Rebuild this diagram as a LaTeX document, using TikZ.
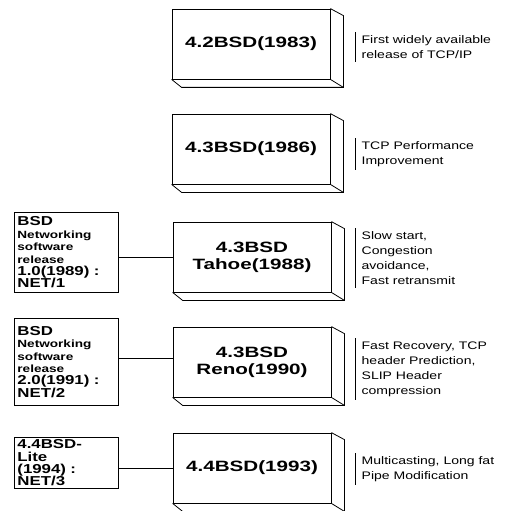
\documentclass[tikz,border=0pt]{standalone}
\usepackage{fontspec}
\newfontfamily\releasefont{Liberation Sans}[FakeStretch=1.38]
\newfontfamily\netfont{Liberation Sans}[FakeStretch=1.3]
\newfontfamily\notefont{Liberation Sans}
\usepackage{tikz}
\usetikzlibrary{positioning}

% bevelled edge on the right and bottom of a release box
\newcommand{\bevel}[1]{%
    \draw[line width=0.8pt] (#1.north east) -- ++(13,7)
        -- ([shift={(13,8)}]#1.south east) -- ([shift={(10,8)}]#1.south west) -- (#1.south west);
    \draw[line width=0.8pt] (#1.south east) -- ++(13,8);
}
% smaller lines inside the left boxes
\newcommand{\netsmall}{\fontsize{10.5}{12.5}\selectfont}
\newcommand{\netbig}{\fontsize{13}{12.5}\selectfont}

\begin{document}
\begin{tikzpicture}[x=1bp, y=-1bp,
    release/.style={draw, line width=0.8pt, minimum width=158bp, minimum height=70bp, align=center,
        font=\releasefont\bfseries\fontsize{15}{17}\selectfont},
    netbox/.style={draw, line width=0.8pt, anchor=north west, text width=98bp, inner xsep=3bp, inner ysep=2bp,
        align=left, font=\netfont\bfseries\netbig},
    note/.style={anchor=west, align=left, transform shape, inner xsep=5bp, inner ysep=3bp,
        font=\notefont\fontsize{11}{15}\selectfont},
    wide/.style={xscale=1.28},
    link/.style={line width=0.8pt}
]
    \useasboundingbox (0,0) rectangle (530,511);

    % Releases arranged vertically
    \node[release] (bsd42) at (251,44) {4.2BSD(1983)};
    \node[release] (bsd43) at (251,149) {4.3BSD(1986)};
    \node[release] (tahoe) at (252,257) {4.3BSD\\Tahoe(1988)};
    \node[release] (reno) at (252,362) {4.3BSD\\Reno(1990)};
    \node[release] (bsd44) at (252,468) {4.4BSD(1993)};
    \bevel{bsd42}
    \bevel{bsd43}
    \bevel{tahoe}
    \bevel{reno}
    \bevel{bsd44}

    % Networking software releases on left side
    \node[netbox, minimum height=80bp] (net1) at (14,212)
        {BSD\\\netsmall Networking\\software\\release\\\netbig 1.0(1989) :\\NET/1};
    \node[netbox, minimum height=87bp] (net2) at (14,318)
        {BSD\\\netsmall Networking\\software\\release\\\netbig 2.0(1991) :\\NET/2};
    \node[netbox, minimum height=51bp] (net3) at (14,437) {4.4BSD-\\Lite\\(1994) :\\NET/3};

    \draw[link] (tahoe.west) -- (tahoe.west -| net1.east);
    \draw[link] (reno.west) ++(0,-4) -- (net2.east |- {(0,358)});
    \draw[link] (bsd44.west) -- (bsd44.west -| net3.east);

    % Notes on right side
    \begin{scope}[shift={(355,47)}, wide]
        \node[note] (n1) at (0,0) {First widely available\\release of TCP/IP};
    \end{scope}
    \begin{scope}[shift={(355,154)}, wide]
        \node[note] (n2) at (0,0) {TCP Performance\\Improvement};
    \end{scope}
    \begin{scope}[shift={(355,258)}, wide]
        \node[note] (n3) at (0,0) {Slow start,\\Congestion\\avoidance,\\Fast retransmit};
    \end{scope}
    \begin{scope}[shift={(355,369)}, wide]
        \node[note] (n4) at (0,0) {Fast Recovery, TCP\\header Prediction,\\SLIP Header\\compression};
    \end{scope}
    \begin{scope}[shift={(355,469)}, wide]
        \node[note] (n5) at (0,0) {Multicasting, Long fat\\Pipe Modification};
    \end{scope}
    \foreach \n in {n1,n2,n3,n4,n5}
        \draw[line width=0.6pt] (\n.north west) -- (\n.south west);

\end{tikzpicture}
\end{document}
